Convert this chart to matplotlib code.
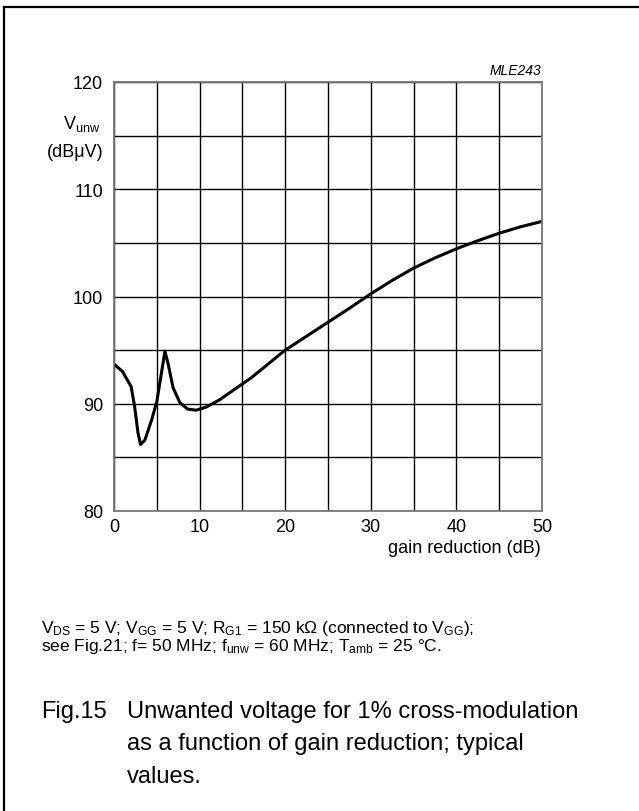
import matplotlib
matplotlib.use("Agg")
import matplotlib.pyplot as plt
from matplotlib.lines import Line2D

plt.rcParams['font.family'] = ['Liberation Sans', 'DejaVu Sans']
plt.rcParams['mathtext.fontset'] = 'custom'
plt.rcParams['mathtext.rm'] = 'Liberation Sans'
plt.rcParams['mathtext.it'] = 'Liberation Sans:italic'

# data
gain_reduction = [0, 1, 2, 2.4, 2.8, 3.1, 3.6, 4.4, 5.0, 5.55, 5.95, 6.3, 6.9, 7.7,
                  8.6, 9.6, 10.8, 12.4, 14, 16, 18, 20, 22.5, 25, 27.5, 30, 32.5,
                  35, 37.5, 40, 42.5, 45, 47.5, 50]
v_unw = [93.7, 93.0, 91.6, 89.8, 87.3, 86.2, 86.6, 88.5, 90.2, 92.9, 94.9, 93.8,
         91.5, 90.1, 89.5, 89.4, 89.7, 90.4, 91.3, 92.4, 93.7, 95.0, 96.3, 97.6,
         98.9, 100.25, 101.5, 102.65, 103.6, 104.45, 105.2, 105.9, 106.5, 107.0]
x_ticks = [0, 10, 20, 30, 40, 50]
y_ticks = [80, 90, 100, 110, 120]

W, H = 639, 812
fig = plt.figure(figsize=(W / 100, H / 100), dpi=100)

def fx(px):
    return px / W

def fy(py):
    return 1 - py / H

L, R, T, B = 114, 542, 83, 512
ax = fig.add_axes([fx(L), fy(B), (R - L) / W, (B - T) / H])
ax.set_xlim(0, 50)
ax.set_ylim(80, 120)
ax.set_xticks(x_ticks)
ax.set_yticks(y_ticks)
ax.set_xticks(range(0, 51, 5), minor=True)
ax.set_yticks(range(80, 121, 5), minor=True)
ax.grid(True, which='both', color='black', linewidth=1.0)
ax.set_axisbelow(True)
ax.tick_params(which='both', length=0, labelsize=13)
ax.tick_params(axis='x', pad=5)
ax.tick_params(axis='y', pad=8)
for s in ax.spines.values():
    s.set_color('#777777')
    s.set_linewidth(1.3)

ax.plot(gain_reduction, v_unw, color='black', linewidth=2.2, solid_capstyle='round')

# axis labels
fig.text(fx(100), fy(129), r"V$_{\rm unw}$", ha='right', va='baseline', fontsize=13)
fig.text(fx(103), fy(157), "(dBμV)", ha='right', va='baseline', fontsize=13)
fig.text(fx(541), fy(553), "gain reduction (dB)", ha='right', va='baseline', fontsize=13)
fig.text(fx(541), fy(75), "MLE243", ha='right', va='baseline', fontsize=10, style='italic')

# footnote
fig.text(fx(41), fy(633),
         r"V$_{\rm DS}$ = 5 V; V$_{\rm GG}$ = 5 V; R$_{\rm G1}$ = 150 kΩ (connected to V$_{\rm GG}$);",
         ha='left', va='baseline', fontsize=12.5)
fig.text(fx(41), fy(651),
         r"see Fig.21; f= 50 MHz; f$_{\rm unw}$ = 60 MHz; T$_{\rm amb}$ = 25 °C.",
         ha='left', va='baseline', fontsize=12.5)

# caption
fig.text(fx(41), fy(718), "Fig.15", ha='left', va='baseline', fontsize=17)
cap = ["Unwanted voltage for 1% cross-modulation",
       "as a function of gain reduction; typical",
       "values."]
for i, line in enumerate(cap):
    fig.text(fx(127), fy(718 + 32.5 * i), line, ha='left', va='baseline', fontsize=17)

# border
fig.add_artist(Line2D([fx(4), fx(W + 2)], [fy(8), fy(8)], color='black', linewidth=1.6,
                      transform=fig.transFigure))
fig.add_artist(Line2D([fx(4), fx(4)], [fy(8), fy(H + 2)], color='black', linewidth=1.6,
                      transform=fig.transFigure))

fig.savefig("out.png", dpi=100)
